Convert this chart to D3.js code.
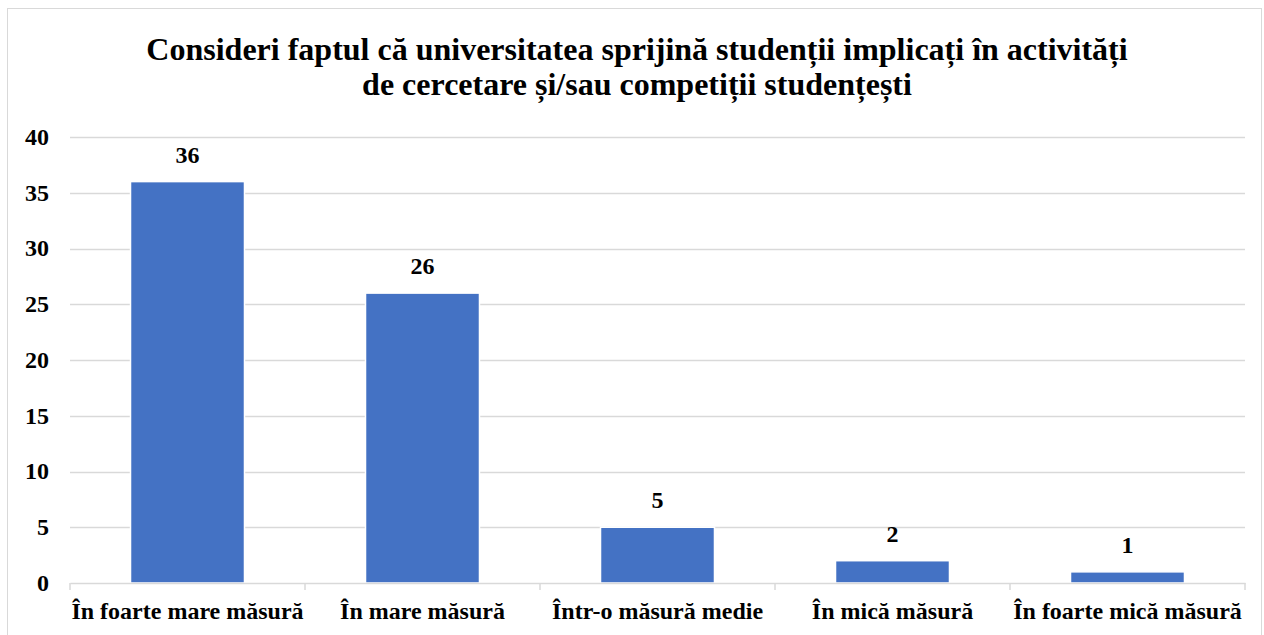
<!DOCTYPE html>
<html>
<head>
<meta charset="utf-8">
<script src="https://cdn.jsdelivr.net/npm/d3@7"></script>
<style>
  body { margin: 0; background: #fff; }
  svg text { font-family: "Liberation Serif", "Times New Roman", serif; font-weight: bold; fill: #000; }
</style>
</head>
<body>
<div id="chart"></div>
<script>
var categories = ['În foarte mare măsură', 'În mare măsură', 'Într-o măsură medie', 'În mică măsură', 'În foarte mică măsură'];
var values = [36, 26, 5, 2, 1];
var yTicks = [0, 5, 10, 15, 20, 25, 30, 35, 40];
var titleLines = ['Consideri faptul că universitatea sprijină studenții implicați în activități', 'de cercetare și/sau competiții studențești'];

var W = 1264, H = 635;
var margin = { top: 137, right: 19, bottom: 52, left: 70 };
var width = W - margin.left - margin.right,
    height = H - margin.top - margin.bottom;

var svg = d3.select('#chart').append('svg')
  .attr('width', W)
  .attr('height', H);

// chart frame
svg.append('rect')
  .attr('x', 7.5).attr('y', 8.5)
  .attr('width', W - 10).attr('height', H)
  .attr('fill', 'none')
  .attr('stroke', '#d9d9d9')
  .attr('stroke-width', 1);

// title
svg.append('text')
  .attr('text-anchor', 'middle')
  .attr('font-size', '32px')
  .selectAll('tspan')
  .data(titleLines)
  .enter().append('tspan')
  .attr('x', 637)
  .attr('y', function(d, i) { return 60 + i * 35; })
  .text(function(d) { return d; });

var g = svg.append('g')
  .attr('transform', 'translate(' + margin.left + ',' + margin.top + ')');

var x = d3.scaleBand()
  .domain(categories)
  .range([0, width])
  .paddingInner(0.515)
  .paddingOuter(0.2575);

var y = d3.scaleLinear()
  .domain([0, 40])
  .range([height, 0]);

// gridlines
g.append('g')
  .selectAll('line')
  .data(yTicks.filter(function(d) { return d > 0; }))
  .enter().append('line')
  .attr('x1', 0).attr('x2', width)
  .attr('y1', function(d) { return Math.round(y(d)) + 0.5; })
  .attr('y2', function(d) { return Math.round(y(d)) + 0.5; })
  .attr('stroke', '#d9d9d9')
  .attr('stroke-width', 1.3);

// y labels
g.append('g')
  .selectAll('text')
  .data(yTicks)
  .enter().append('text')
  .attr('x', -21)
  .attr('y', function(d) { return y(d); })
  .attr('dy', '0.33em')
  .attr('text-anchor', 'end')
  .attr('font-size', '24px')
  .text(function(d) { return d; });

// bars
g.selectAll('.bar')
  .data(values)
  .enter().append('rect')
  .attr('class', 'bar')
  .attr('x', function(d, i) { return x(categories[i]); })
  .attr('y', function(d) { return y(d); })
  .attr('width', x.bandwidth())
  .attr('height', function(d) { return height - y(d); })
  .attr('fill', '#4472c4')
  .attr('stroke', '#fff')
  .attr('stroke-width', 1.5);

// value labels
g.selectAll('.val')
  .data(values)
  .enter().append('text')
  .attr('class', 'val')
  .attr('x', function(d, i) { return x(categories[i]) + x.bandwidth() / 2; })
  .attr('y', function(d) { return y(d) - 19; })
  .attr('text-anchor', 'middle')
  .attr('font-size', '24px')
  .text(function(d) { return d; });

// x axis
var xAxis = g.append('g')
  .attr('transform', 'translate(0,' + height + ')')
  .call(d3.axisBottom(x).tickSize(0).tickPadding(19));
xAxis.select('.domain').attr('stroke', '#d9d9d9').attr('stroke-width', 1.5);
xAxis.selectAll('text')
  .attr('font-size', '24px')
  .attr('font-family', '"Liberation Serif", "Times New Roman", serif')
  .attr('font-weight', 'bold')
  .attr('fill', '#000');

// category separator ticks
xAxis.selectAll('.sep')
  .data(d3.range(categories.length + 1))
  .enter().append('line')
  .attr('class', 'sep')
  .attr('x1', function(i) { return i * width / categories.length; })
  .attr('x2', function(i) { return i * width / categories.length; })
  .attr('y1', 0).attr('y2', 7)
  .attr('stroke', '#d9d9d9')
  .attr('stroke-width', 1.5);
</script>
</body>
</html>
